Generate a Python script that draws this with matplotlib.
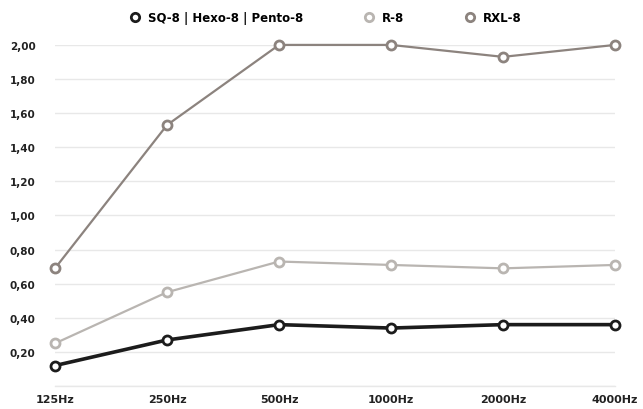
import matplotlib
matplotlib.use("Agg")
import matplotlib.pyplot as plt
from matplotlib.lines import Line2D

# frequency bands and absorption values
freqs = ["125Hz", "250Hz", "500Hz", "1000Hz", "2000Hz", "4000Hz"]
sq8 = [0.12, 0.27, 0.36, 0.34, 0.36, 0.36]
r8 = [0.25, 0.55, 0.73, 0.71, 0.69, 0.71]
rxl8 = [0.69, 1.53, 2.00, 2.00, 1.93, 2.00]
names = ["SQ-8 | Hexo-8 | Pento-8", "R-8", "RXL-8"]
yticks = [0.2, 0.4, 0.6, 0.8, 1.0, 1.2, 1.4, 1.6, 1.8, 2.0]

fig = plt.figure(figsize=(6.43, 4.10), dpi=100)
ax = fig.add_axes([0.0855, 0.056, 0.871, 0.832])

x = range(len(freqs))
series = [(rxl8, "#8c837e", 1.6), (r8, "#b9b5b1", 1.6), (sq8, "#1c1c1c", 2.6)]
for vals, col, lw in series:
    ax.plot(x, vals, color=col, lw=lw, marker="o", ms=6.5, mfc="white",
            mec=col, mew=2, clip_on=False, zorder=3)

ax.set_xlim(0, len(freqs) - 1)
ax.set_ylim(0, 2.0)
ax.set_yticks([0] + yticks)
ax.set_yticklabels([""] + [("%.2f" % v).replace(".", ",") for v in yticks])
ax.set_xticks(list(x))
ax.set_xticklabels(freqs)
ax.grid(axis="y", color="#e8e8e8", lw=1)
ax.axhline(0, color="#e8e8e8", lw=1, clip_on=False, zorder=0)
ax.set_axisbelow(True)
for s in ax.spines.values():
    s.set_visible(False)
ax.tick_params(axis="x", length=0, labelsize=8, colors="#222222", pad=6)
ax.tick_params(axis="y", length=0, labelsize=7.5, colors="#222222", pad=14)
for t in ax.get_xticklabels() + ax.get_yticklabels():
    t.set_fontweight("bold")

handles = [Line2D([], [], ls="none", marker="o", ms=6, mfc="white", mec=c, mew=2)
           for c in ["#1c1c1c", "#b9b5b1", "#8c837e"]]
leg = fig.legend(handles, names, loc="center", bbox_to_anchor=(0.506, 0.955), ncol=3,
                 frameon=False, fontsize=8.5, handletextpad=0.6, columnspacing=5.1,
                 handlelength=1)
for t in leg.get_texts():
    t.set_fontweight("bold")

fig.savefig("out.png", dpi=100)
